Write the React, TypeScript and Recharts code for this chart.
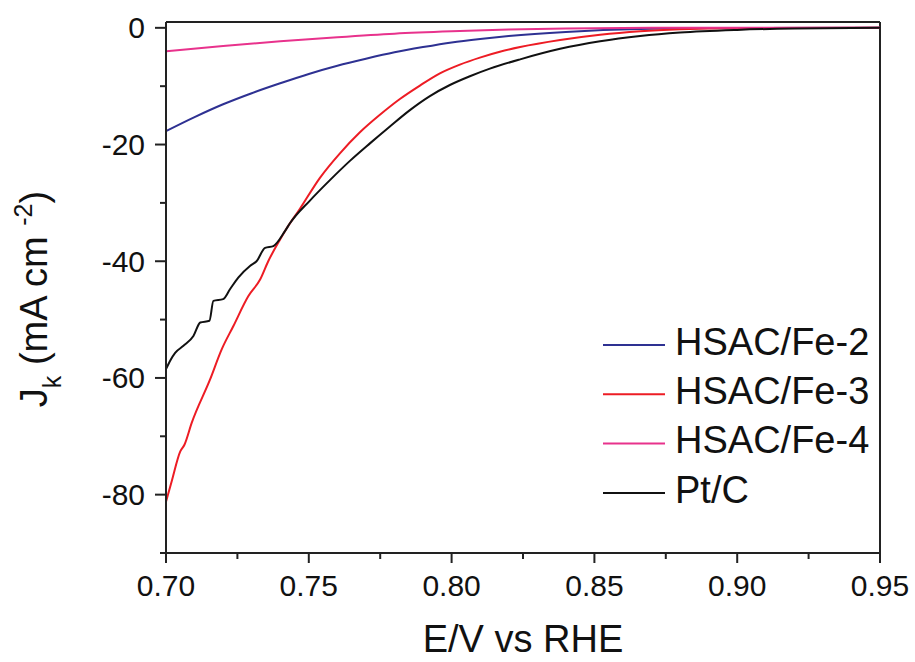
import { LineChart, Line, XAxis, YAxis, ReferenceLine, Legend } from 'recharts'

// potential (V vs RHE) and kinetic current density (mA cm-2)
const fe2E = [0.7, 0.71, 0.72, 0.73, 0.74, 0.75, 0.76, 0.77, 0.78, 0.79, 0.8, 0.81, 0.82, 0.84, 0.866, 0.9, 0.95]
const fe2J = [-17.7, -15.3, -13.1, -11.2, -9.5, -7.9, -6.5, -5.3, -4.2, -3.3, -2.5, -1.9, -1.4, -0.7, -0.2, -0.03, 0]

const fe3E = [0.7, 0.702, 0.705, 0.7065, 0.709, 0.7154, 0.7195, 0.7236, 0.7288, 0.733, 0.7358, 0.7399, 0.7417, 0.7469, 0.7539, 0.7609, 0.7679, 0.7749, 0.7819, 0.7889, 0.7959, 0.8029, 0.8099, 0.8169, 0.824, 0.838, 0.852, 0.866, 0.88, 0.9, 0.95]
const fe3J = [-81.2, -77.7, -72.6, -71.4, -67.7, -60.3, -55.1, -51.1, -46.0, -43.1, -40.0, -36.3, -34.8, -31.0, -25.7, -21.5, -17.9, -14.9, -12.2, -9.9, -7.8, -6.3, -5.1, -4.1, -3.3, -2.1, -1.2, -0.6, -0.25, -0.05, 0]

const fe4E = [0.7, 0.72, 0.74, 0.76, 0.78, 0.8, 0.82, 0.84, 0.87, 0.95]
const fe4J = [-4.0, -3.1, -2.3, -1.6, -1.0, -0.6, -0.3, -0.1, 0, 0]

const ptE = [0.7, 0.7015, 0.7032, 0.7061, 0.7096, 0.712, 0.7152, 0.7166, 0.72, 0.7224, 0.7253, 0.7294, 0.7317, 0.7347, 0.7376, 0.7417, 0.7434, 0.7504, 0.7574, 0.7644, 0.7714, 0.7784, 0.7854, 0.7924, 0.7994, 0.8064, 0.8134, 0.824, 0.838, 0.852, 0.866, 0.88, 0.9, 0.92, 0.95]
const ptJ = [-58.5, -57.0, -55.7, -54.5, -52.8, -50.5, -50.2, -46.8, -46.5, -44.8, -42.8, -40.8, -40.0, -37.7, -37.4, -34.8, -33.5, -29.6, -26.1, -22.8, -19.8, -16.9, -14.1, -11.7, -9.8, -8.3, -7.0, -5.4, -3.6, -2.3, -1.4, -0.8, -0.35, -0.12, 0]

const xTicks = [0.7, 0.725, 0.75, 0.775, 0.8, 0.825, 0.85, 0.875, 0.9, 0.925, 0.95]
const yTicks = [0, -10, -20, -30, -40, -50, -60, -70, -80, -90]

const toPoints = (es: number[], js: number[]) => es.map((e, i) => ({ e, j: js[i] }))

const series = [
  { name: 'HSAC/Fe-2', color: '#2e3192', data: toPoints(fe2E, fe2J) },
  { name: 'HSAC/Fe-3', color: '#ed1c24', data: toPoints(fe3E, fe3J) },
  { name: 'HSAC/Fe-4', color: '#e8328c', data: toPoints(fe4E, fe4J) },
  { name: 'Pt/C', color: '#111111', data: toPoints(ptE, ptJ) },
]

const font = "'Liberation Sans', Arial, sans-serif"
const axisColor = '#222'

const XTick = (props: any) => {
  const { x, y, payload } = props
  const v = payload.value as number
  const major = Math.round(v * 1000) % 50 === 0
  return (
    <g>
      <line x1={x} x2={x} y1={y} y2={y + (major ? 10 : 6)} stroke={axisColor} strokeWidth={2} />
      {major && (
        <text x={x} y={y + 43} textAnchor="middle" fontSize={30} fontFamily={font} fill="#111">
          {v.toFixed(2)}
        </text>
      )}
    </g>
  )
}

const YTick = (props: any) => {
  const { x, y, payload } = props
  const v = payload.value as number
  const major = v % 20 === 0
  return (
    <g>
      <line x1={x - (major ? 11 : 6)} x2={x} y1={y} y2={y} stroke={axisColor} strokeWidth={2} />
      {major && (
        <text x={x - 21} y={y + 10.5} textAnchor="end" fontSize={30} fontFamily={font} fill="#111">
          {v}
        </text>
      )}
    </g>
  )
}

const LegendBox = ({ payload }: any) => (
  <svg width={290} height={200}>
    {(payload || []).map((p: any, i: number) => (
      <g key={p.value}>
        <line x1={3} x2={65} y1={25 + i * 49.3} y2={25 + i * 49.3} stroke={p.color} strokeWidth={2} />
        <text x={75} y={34.7 + i * 49.3} fontSize={38} fontFamily={font} fill="#111">
          {p.value}
        </text>
      </g>
    ))}
  </svg>
)

export default function App() {
  return (
    <div style={{ position: 'absolute', left: 0, top: 0, background: '#fff' }}>
      <LineChart width={915} height={662} margin={{ top: 22, right: 35, left: 0, bottom: 0 }}>
        <XAxis
          dataKey="e"
          type="number"
          domain={[0.7, 0.95]}
          allowDataOverflow
          ticks={xTicks}
          interval={0}
          height={109}
          tickSize={0}
          tickMargin={0}
          tickLine={false}
          tick={<XTick />}
          axisLine={{ stroke: axisColor, strokeWidth: 2 }}
          label={{
            content: ({ viewBox }: any) => (
              <text x={viewBox.x + viewBox.width / 2} y={652} textAnchor="middle" fontSize={38} fontFamily={font} fill="#111">
                E/V vs RHE
              </text>
            ),
          }}
        />
        <YAxis
          type="number"
          domain={[-90, 1]}
          allowDataOverflow
          ticks={yTicks}
          interval={0}
          width={166}
          tickSize={0}
          tickMargin={0}
          tickLine={false}
          tick={<YTick />}
          axisLine={{ stroke: axisColor, strokeWidth: 2 }}
          label={{
            content: () => (
              <text x={47} y={299} transform="rotate(-90, 47, 299)" textAnchor="middle" fontSize={38} fontFamily={font} fill="#111">
                J
                <tspan fontSize={25} dy={14}>k</tspan>
                <tspan dy={-14}> (mA cm </tspan>
                <tspan fontSize={25} dy={-15}>-2</tspan>
                <tspan dy={15}>)</tspan>
              </text>
            ),
          }}
        />
        <ReferenceLine y={1} stroke={axisColor} strokeWidth={2} />
        <ReferenceLine x={0.95} stroke={axisColor} strokeWidth={2} />
        {series.map((s) => (
          <Line
            key={s.name}
            data={s.data}
            dataKey="j"
            name={s.name}
            stroke={s.color}
            strokeWidth={2}
            dot={false}
            type="monotone"
            isAnimationActive={false}
          />
        ))}
        <Legend
          layout="vertical"
          align="center"
          verticalAlign="middle"
          content={<LegendBox />}
          wrapperStyle={{ position: 'absolute', left: 600, top: 320, width: 290, height: 200 }}
        />
      </LineChart>
    </div>
  )
}
